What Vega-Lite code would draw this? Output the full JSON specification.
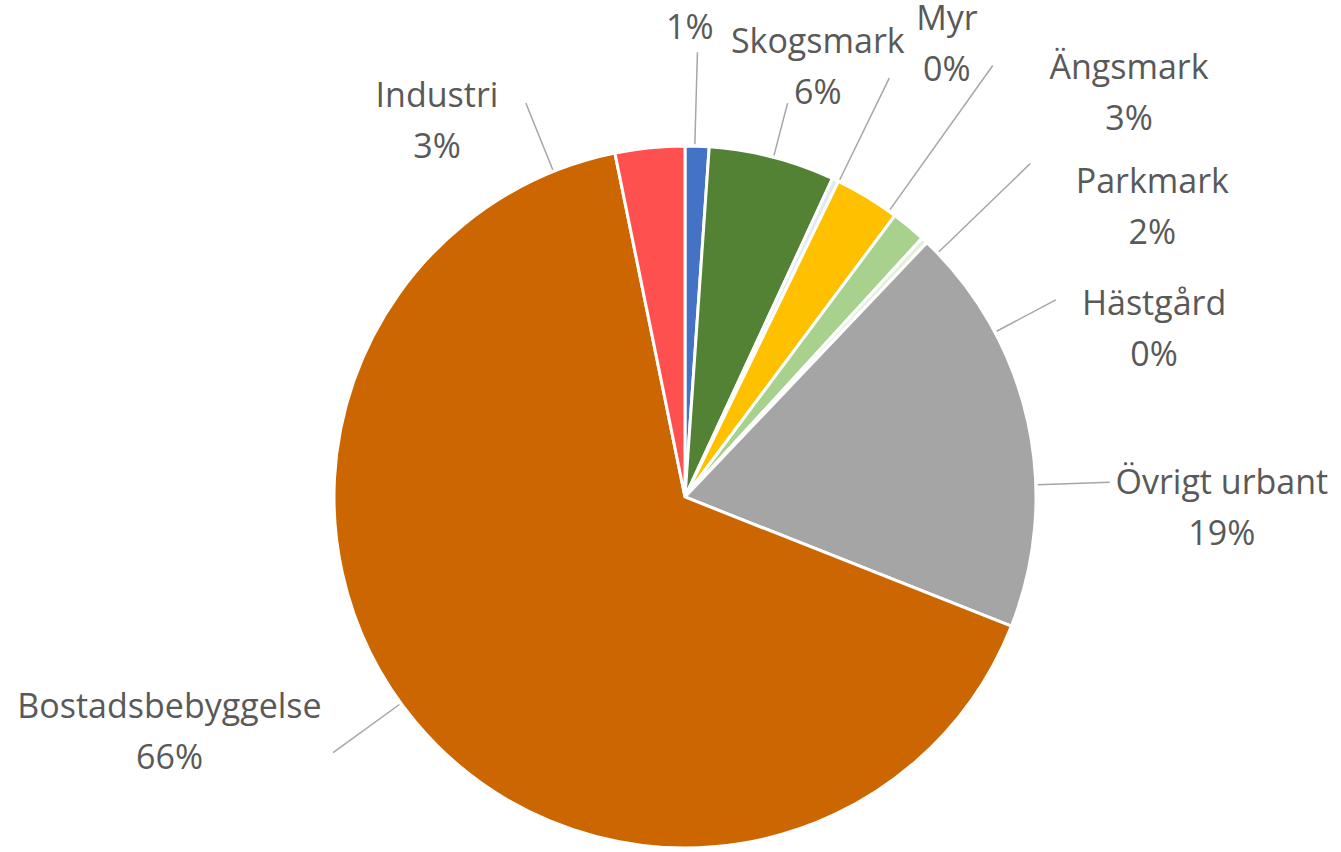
{
  "$schema": "https://vega.github.io/schema/vega-lite/v6.json",
  "autosize": "none",
  "width": 1312,
  "height": 710,
  "padding": {"left": 29, "top": 142, "right": 0, "bottom": 0},
  "background": "white",
  "config": {"view": {"stroke": null}},
  "data": {
    "values": [
      {"rank": 1, "category": "Vatten", "value": 1.1, "label": "1%"},
      {"rank": 2, "category": "Skogsmark", "value": 5.8, "label": "Skogsmark\n6%"},
      {"rank": 3, "category": "Myr", "value": 0.3, "label": "Myr\n0%"},
      {"rank": 4, "category": "Ängsmark", "value": 3.0, "label": "Ängsmark\n3%"},
      {"rank": 5, "category": "Parkmark", "value": 1.6, "label": "Parkmark\n2%"},
      {"rank": 6, "category": "Hästgård", "value": 0.3, "label": "Hästgård\n0%"},
      {"rank": 7, "category": "Övrigt urbant", "value": 18.9, "label": "Övrigt urbant\n19%"},
      {"rank": 8, "category": "Bostadsbebyggelse", "value": 65.8, "label": "Bostadsbebyggelse\n66%"},
      {"rank": 9, "category": "Industri", "value": 3.2, "label": "Industri\n3%"}
    ]
  },
  "encoding": {
    "theta": {"field": "value", "type": "quantitative", "stack": true},
    "order": {"field": "rank", "type": "quantitative", "sort": "ascending"}
  },
  "layer": [
    {
      "mark": {"type": "arc", "outerRadius": 351, "stroke": "white", "strokeWidth": 3},
      "encoding": {
        "color": {
          "field": "category",
          "type": "nominal",
          "scale": {
            "domain": ["Vatten", "Skogsmark", "Myr", "Ängsmark", "Parkmark", "Hästgård", "Övrigt urbant", "Bostadsbebyggelse", "Industri"],
            "range": ["#4472C4", "#548235", "#DEEBF7", "#FFC000", "#A9D18E", "#E2F0D9", "#A5A5A5", "#CC6600", "#FF5050"]
          },
          "legend": null
        }
      }
    },
    {
      "mark": {"type": "arc", "filled": false, "stroke": "#A6A6A6", "strokeWidth": 1.5, "radius": 445, "radius2": 353, "padAngle": 3.14159, "thetaOffset": -0.00663},
      "encoding": {"strokeOpacity": {"condition": {"test": "datum.category === 'Vatten'", "value": 1}, "value": 0}}
    },
    {
      "mark": {"type": "arc", "filled": false, "stroke": "#A6A6A6", "strokeWidth": 1.5, "radius": 407, "radius2": 353, "padAngle": 3.14159, "thetaOffset": 0.00349},
      "encoding": {"strokeOpacity": {"condition": {"test": "datum.category === 'Skogsmark'", "value": 1}, "value": 0}}
    },
    {
      "mark": {"type": "arc", "filled": false, "stroke": "#A6A6A6", "strokeWidth": 1.5, "radius": 466, "radius2": 353, "padAngle": 3.14159, "thetaOffset": 0.01082},
      "encoding": {"strokeOpacity": {"condition": {"test": "datum.category === 'Myr'", "value": 1}, "value": 0}}
    },
    {
      "mark": {"type": "arc", "filled": false, "stroke": "#A6A6A6", "strokeWidth": 1.5, "radius": 530, "radius2": 353, "padAngle": 3.14159, "thetaOffset": 0.07295},
      "encoding": {"strokeOpacity": {"condition": {"test": "datum.category === 'Ängsmark'", "value": 1}, "value": 0}}
    },
    {
      "mark": {"type": "arc", "filled": false, "stroke": "#A6A6A6", "strokeWidth": 1.5, "radius": 480, "radius2": 353, "padAngle": 3.14159, "thetaOffset": 0.1117},
      "encoding": {"strokeOpacity": {"condition": {"test": "datum.category === 'Parkmark'", "value": 1}, "value": 0}}
    },
    {
      "mark": {"type": "arc", "filled": false, "stroke": "#A6A6A6", "strokeWidth": 1.5, "radius": 420, "radius2": 353, "padAngle": 3.14159, "thetaOffset": 0.33126},
      "encoding": {"strokeOpacity": {"condition": {"test": "datum.category === 'Hästgård'", "value": 1}, "value": 0}}
    },
    {
      "mark": {"type": "arc", "filled": false, "stroke": "#A6A6A6", "strokeWidth": 1.5, "radius": 425, "radius2": 353, "padAngle": 3.14159, "thetaOffset": 0.18186},
      "encoding": {"strokeOpacity": {"condition": {"test": "datum.category === 'Övrigt urbant'", "value": 1}, "value": 0}}
    },
    {
      "mark": {"type": "arc", "filled": false, "stroke": "#A6A6A6", "strokeWidth": 1.5, "radius": 435, "radius2": 353, "padAngle": 3.14159, "thetaOffset": 3.64111},
      "encoding": {"strokeOpacity": {"condition": {"test": "datum.category === 'Myr'", "value": 1}, "value": 0}}
    },
    {
      "mark": {"type": "arc", "filled": false, "stroke": "#A6A6A6", "strokeWidth": 1.5, "radius": 425, "radius2": 353, "padAngle": 3.14159, "thetaOffset": -0.28344},
      "encoding": {"strokeOpacity": {"condition": {"test": "datum.category === 'Industri'", "value": 1}, "value": 0}}
    },
    {
      "mark": {"type": "text", "radius": 468, "thetaOffset": -0.0244, "font": "Open Sans", "fontSize": 34, "fill": "#595959", "lineBreak": "\n", "lineHeight": 51, "align": "center", "baseline": "middle"},
      "encoding": {"text": {"condition": {"test": "datum.category === 'Vatten'", "field": "label"}, "value": ""}}
    },
    {
      "mark": {"type": "text", "radius": 473, "thetaOffset": 0.0332, "font": "Open Sans", "fontSize": 34, "fill": "#595959", "lineBreak": "\n", "lineHeight": 51, "align": "center", "baseline": "middle"},
      "encoding": {"text": {"condition": {"test": "datum.category === 'Skogsmark'", "field": "label"}, "value": ""}}
    },
    {
      "mark": {"type": "text", "radius": 544, "thetaOffset": 0.0593, "font": "Open Sans", "fontSize": 34, "fill": "#595959", "lineBreak": "\n", "lineHeight": 51, "align": "center", "baseline": "middle"},
      "encoding": {"text": {"condition": {"test": "datum.category === 'Myr'", "field": "label"}, "value": ""}}
    },
    {
      "mark": {"type": "text", "radius": 617, "thetaOffset": 0.2566, "font": "Open Sans", "fontSize": 34, "fill": "#595959", "lineBreak": "\n", "lineHeight": 51, "align": "center", "baseline": "middle"},
      "encoding": {"text": {"condition": {"test": "datum.category === 'Ängsmark'", "field": "label"}, "value": ""}}
    },
    {
      "mark": {"type": "text", "radius": 563, "thetaOffset": 0.288, "font": "Open Sans", "fontSize": 34, "fill": "#595959", "lineBreak": "\n", "lineHeight": 51, "align": "center", "baseline": "middle"},
      "encoding": {"text": {"condition": {"test": "datum.category === 'Parkmark'", "field": "label"}, "value": ""}}
    },
    {
      "mark": {"type": "text", "radius": 507, "thetaOffset": 0.431, "font": "Open Sans", "fontSize": 34, "fill": "#595959", "lineBreak": "\n", "lineHeight": 51, "align": "center", "baseline": "middle"},
      "encoding": {"text": {"condition": {"test": "datum.category === 'Hästgård'", "field": "label"}, "value": ""}}
    },
    {
      "mark": {"type": "text", "radius": 537, "thetaOffset": 0.192, "font": "Open Sans", "fontSize": 34, "fill": "#595959", "lineBreak": "\n", "lineHeight": 51, "align": "center", "baseline": "middle"},
      "encoding": {"text": {"condition": {"test": "datum.category === 'Övrigt urbant'", "field": "label"}, "value": ""}}
    },
    {
      "mark": {"type": "text", "radius": 557, "thetaOffset": 0.309, "font": "Open Sans", "fontSize": 34, "fill": "#595959", "lineBreak": "\n", "lineHeight": 51, "align": "center", "baseline": "middle"},
      "encoding": {"text": {"condition": {"test": "datum.category === 'Bostadsbebyggelse'", "field": "label"}, "value": ""}}
    },
    {
      "mark": {"type": "text", "radius": 471, "thetaOffset": -0.454, "font": "Open Sans", "fontSize": 34, "fill": "#595959", "lineBreak": "\n", "lineHeight": 51, "align": "center", "baseline": "middle"},
      "encoding": {"text": {"condition": {"test": "datum.category === 'Industri'", "field": "label"}, "value": ""}}
    }
  ]
}
